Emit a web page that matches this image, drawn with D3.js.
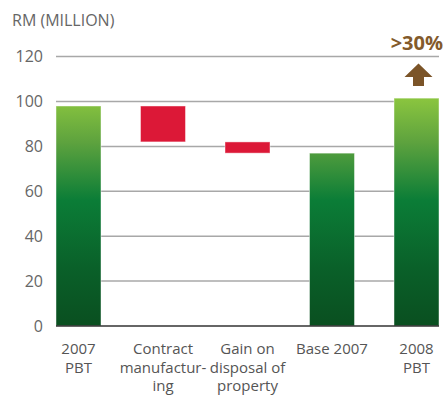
<!DOCTYPE html>
<html>
<head>
<meta charset="utf-8">
<script src="https://cdn.jsdelivr.net/npm/d3@7"></script>
<style>
  body { margin: 0; background: #fff; }
  svg text { font-family: "Open Sans", sans-serif; }
</style>
</head>
<body>
<svg width="444" height="401"></svg>
<script>
// chart data
var categories = ["2007\nPBT", "Contract\nmanufactur-\ning", "Gain on\ndisposal of\nproperty", "Base 2007", "2008\nPBT"];
var barStart = [0, 82, 77, 0, 0];
var barEnd = [98, 98, 82, 77, 101.5];
var barKind = ["total", "minus", "minus", "total", "total"];
var yTicks = [0, 20, 40, 60, 80, 100, 120];
var unitLabel = "RM (MILLION)";
var growthLabel = ">30%";

function drawChart() {
	var svg = d3.select("svg");
	var left = 56, right = 439, top = 56.6, bottom = 326;

	var x = d3.scaleBand().domain(categories).range([left, right]).paddingInner(0.4675).paddingOuter(0);
	var y = d3.scaleLinear().domain([0, 120]).range([bottom, top]);

	var defs = svg.append("defs");
	var grad = defs.append("linearGradient")
		.attr("id", "greenGrad")
		.attr("gradientUnits", "userSpaceOnUse")
		.attr("x1", 0).attr("x2", 0)
		.attr("y1", y(102)).attr("y2", y(0));
	grad.append("stop").attr("offset", 0).attr("stop-color", "#8cc63f");
	grad.append("stop").attr("offset", 0.2).attr("stop-color", "#5da23e");
	grad.append("stop").attr("offset", 0.45).attr("stop-color", "#0b7d37");
	grad.append("stop").attr("offset", 0.75).attr("stop-color", "#0a6029");
	grad.append("stop").attr("offset", 1).attr("stop-color", "#0a4f20");

	// unit label
	svg.append("text")
		.attr("x", 12).attr("y", 26)
		.style("font-size", "16px")
		.style("fill", "#666")
		.text(unitLabel);

	// grid lines + tick labels
	var axis = svg.append("g").attr("class", "y axis");
	axis.selectAll(".grid")
		.data(yTicks.filter(function(d) { return d > 0; }))
		.enter().append("line")
		.attr("class", "grid")
		.attr("x1", left).attr("x2", right)
		.attr("y1", function(d) { return y(d); })
		.attr("y2", function(d) { return y(d); })
		.style("stroke", "#a8a8a8")
		.style("stroke-width", 1.5);

	axis.selectAll(".tickLbl")
		.data(yTicks)
		.enter().append("text")
		.attr("class", "tickLbl")
		.attr("x", 43)
		.attr("y", function(d) { return y(d); })
		.attr("dy", "0.36em")
		.style("text-anchor", "end")
		.style("font-size", "16px")
		.style("fill", "#666")
		.text(function(d) { return d; });

	// bars
	svg.selectAll(".bar")
		.data(categories)
		.enter().append("rect")
		.attr("class", "bar")
		.attr("x", function(d) { return x(d); })
		.attr("width", x.bandwidth())
		.attr("y", function(d, i) { return y(barEnd[i]); })
		.attr("height", function(d, i) { return y(barStart[i]) - y(barEnd[i]); })
		.style("fill", function(d, i) { return barKind[i] === "minus" ? "#dc1837" : "url(#greenGrad)"; })
		.style("stroke", "rgba(255,255,255,0.45)")
		.style("stroke-width", 1);

	// baseline
	svg.append("line")
		.attr("x1", left).attr("x2", right)
		.attr("y1", y(0)).attr("y2", y(0))
		.style("stroke", "#333")
		.style("stroke-width", 1.5);

	// category labels
	var lbls = svg.selectAll(".catLbl")
		.data(categories)
		.enter().append("text")
		.attr("class", "catLbl")
		.attr("x", function(d) { return x(d) + x.bandwidth() / 2; })
		.attr("y", 354)
		.style("text-anchor", "middle")
		.style("font-size", "15px")
		.style("fill", "#555");
	lbls.selectAll("tspan")
		.data(function(d) { return d.split("\n"); })
		.enter().append("tspan")
		.attr("x", function() { return d3.select(this.parentNode).attr("x"); })
		.attr("dy", function(d, i) { return i === 0 ? 0 : 18.5; })
		.text(function(d) { return d; });

	// growth marker over the last bar
	var last = categories[categories.length - 1];
	var cx = x(last) + x.bandwidth() / 2 + 2;
	svg.append("text")
		.attr("x", 443).attr("y", 50)
		.style("text-anchor", "end")
		.style("font-size", "20px")
		.style("font-weight", 700)
		.style("fill", "#835a2b")
		.text(growthLabel);

	var arrow = d3.path();
	arrow.moveTo(cx, 63.5);
	arrow.lineTo(cx + 14, 77);
	arrow.lineTo(cx + 5.5, 77);
	arrow.lineTo(cx + 5.5, 86);
	arrow.lineTo(cx - 5.5, 86);
	arrow.lineTo(cx - 5.5, 77);
	arrow.lineTo(cx - 14, 77);
	arrow.closePath();
	svg.append("path")
		.attr("d", arrow.toString())
		.style("fill", "#7b5428");
}

drawChart();
</script>
</body>
</html>
